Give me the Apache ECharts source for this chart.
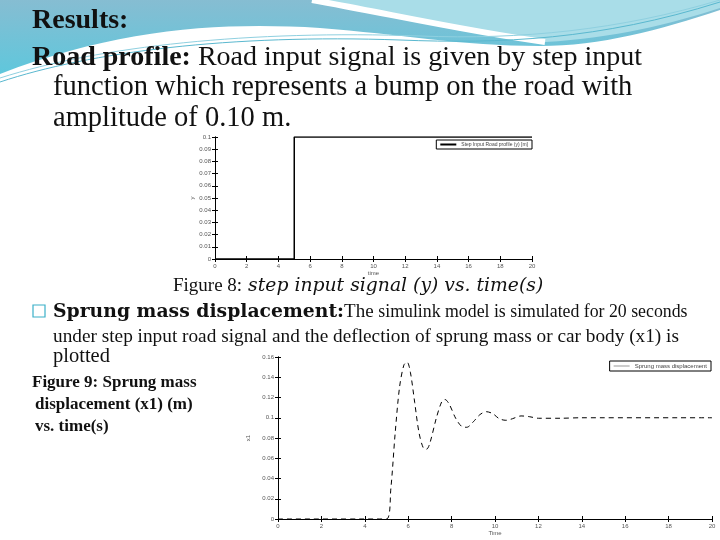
<!DOCTYPE html>
<html>
<head>
<meta charset="utf-8">
<script src="https://cdn.jsdelivr.net/npm/echarts@6/dist/echarts.min.js"></script>
<style>
  html, body { margin: 0; padding: 0; background: #fff; }
  #main { width: 720px; height: 540px; }
</style>
</head>
<body>
<div id="main"></div>
<script>
// figure 8 : step input road profile
var stepTime = [0, 5, 5, 20];
var stepValue = [0, 0, 0.1, 0.1];

// figure 9 : sprung mass displacement
var sprungTime = [0, 5.0, 5.2, 5.4, 5.6, 5.8, 5.95, 6.1, 6.3, 6.5, 6.7, 6.85, 7.0, 7.3, 7.55, 7.7, 7.9, 8.2, 8.5, 8.7,
                  9.0, 9.3, 9.6, 9.9, 10.2, 10.5, 10.8, 11.2, 11.6, 12, 13, 14, 20];
var sprungX = [0, 0, 0.03, 0.085, 0.13, 0.152, 0.155, 0.145, 0.115, 0.085, 0.07, 0.069, 0.075, 0.1, 0.116, 0.118, 0.113, 0.099, 0.091, 0.0906,
               0.096, 0.103, 0.106, 0.104, 0.099, 0.0975, 0.099, 0.1018, 0.101, 0.0995, 0.0995, 0.1, 0.1];

var stepName = 'Step Input Road profile (y) [m]';
var sprungName = 'Sprung mass displacement';

// header wave shapes
echarts.graphic.registerShape('waveBlue', echarts.graphic.extendPath('M0,0 L720,0 L720,10 C660,30 600,46 540,46 C460,46 400,34 320,28 C220,22 120,28 0,74 Z'));
echarts.graphic.registerShape('waveCyan', echarts.graphic.extendPath('M312,0 C390,14 470,32 545,42 C615,38 670,24 720,8 L720,0 Z'));
echarts.graphic.registerShape('waveWhite', echarts.graphic.extendPath('M312,0 C390,14 470,32 545,42'));
echarts.graphic.registerShape('waveLine1', echarts.graphic.extendPath('M0,82 C90,52 230,34 400,40 C500,44 600,40 720,2'));
echarts.graphic.registerShape('waveLine2', echarts.graphic.extendPath('M0,78 C100,46 250,30 420,36 C520,40 620,30 720,0'));

var myChart = echarts.init(document.getElementById('main'));

var serif = '"Liberation Serif", serif';
var wide = '"DejaVu Serif", serif';

function pair(xs, ys) {
    return xs.map(function (x, i) { return [x, ys[i]]; });
}

// matlab style axis : ticks inside, small grey labels
function axis(grid, pos, min, max, step, showLabel, name) {
    return {
        type: 'value', gridIndex: grid, position: pos, min: min, max: max, interval: step,
        name: name || '', nameLocation: 'middle',
        nameGap: (pos == 'bottom') ? 9 : 16,
        nameTextStyle: { fontSize: 6, color: '#555', fontFamily: 'Liberation Sans' },
        z: 3,
        axisLine: { show: true, lineStyle: { color: '#000', width: 1 } },
        axisTick: { show: true, inside: true, length: 3, lineStyle: { color: '#000' } },
        axisLabel: { show: showLabel, fontSize: 6, color: '#555', margin: 4, fontFamily: 'Liberation Sans' },
        splitLine: { show: false }
    };
}

function txt(x, y, text, font, extra) {
    var s = { x: x, y: y, text: text, font: font, fill: '#111', textVerticalAlign: 'middle' };
    for (var k in extra) s[k] = extra[k];
    return { type: 'text', z: 0, style: s };
}

var option = {
    backgroundColor: '#fff',
    animation: false,
    graphic: [
        // header wave
        { type: 'waveBlue', z: 0,
          style: { fill: new echarts.graphic.LinearGradient(0, 0, 0, 1, [{ offset: 0, color: '#86bdd2' }, { offset: 1, color: '#5fc7dc' }]) } },
        { type: 'waveCyan', z: 0, style: { fill: '#a9dde8' } },
        { type: 'waveWhite', z: 0, style: { fill: null, stroke: '#fff', lineWidth: 6 } },
        { type: 'waveLine1', z: 0, style: { fill: null, stroke: '#5ab8cf', lineWidth: 1 } },
        { type: 'waveLine2', z: 0, style: { fill: null, stroke: '#8fd0e0', lineWidth: 1 } },

        // slide text
        txt(32, 21, 'Results:', 'bold 28px ' + serif),
        txt(32, 58, '{b|Road profile:} Road input signal is given by step input', '28px ' + serif,
            { rich: { b: { font: 'bold 28px ' + serif, fill: '#111' } } }),
        txt(53, 88, 'function which represents a bump on the road with', '28.5px ' + serif),
        txt(53, 119, 'amplitude of 0.10 m.', '28.5px ' + serif),
        // picture backgrounds
        { type: 'rect', z: 1, shape: { x: 163, y: 127, width: 410, height: 149 }, style: { fill: '#fff' } },
        { type: 'rect', z: 1, shape: { x: 243, y: 346, width: 477, height: 194 }, style: { fill: '#fff' } },

        txt(173, 286, '{a|Figure 8:}{b| step input signal (y) vs. time(s)}', '19px ' + serif,
            { rich: { a: { font: '19px ' + serif, fill: '#111' }, b: { font: 'italic 18.8px ' + wide, fill: '#111' } } }),
        { type: 'rect', z: 0, shape: { x: 33, y: 305, width: 12, height: 12 }, style: { fill: null, stroke: '#3ab0c8', lineWidth: 1.2 } },
        txt(53, 312, '{a|Sprung mass displacement:}{b|The }{c|simulink model is simulated for 20 seconds}', '19px ' + serif,
            { rich: { a: { font: 'bold 18.8px ' + wide, fill: '#111' }, b: { font: '19px ' + serif, fill: '#111' }, c: { font: '17.8px ' + serif, fill: '#111' } } }),
        txt(53, 337, 'under step input road signal and the deflection of sprung mass or car body (x1) is', '19.3px ' + serif),
        txt(53, 357, 'plotted', '20.5px ' + serif),
        txt(32, 383, 'Figure 9: Sprung mass', 'bold 17px ' + serif),
        txt(35, 405, 'displacement (x1) (m)', 'bold 17px ' + serif),
        txt(35, 427, 'vs. time(s)', 'bold 17px ' + serif)
    ],
    grid: [
        { left: 215, top: 137, width: 317, height: 122, show: false },
        { left: 278, top: 357, width: 434, height: 162, show: false }
    ],
    legend: [
        { data: [stepName], right: 188, top: 140, orient: 'vertical', icon: 'rect', itemWidth: 16, itemHeight: 2,
          borderColor: '#000', borderWidth: 1, padding: [2, 4], backgroundColor: '#fff', z: 5,
          textStyle: { fontSize: 5, color: '#444' } },
        { data: [sprungName], right: 9, top: 361, orient: 'vertical', icon: 'rect', itemWidth: 16, itemHeight: 1,
          borderColor: '#000', borderWidth: 1, padding: [2, 4], backgroundColor: '#fff', z: 5,
          textStyle: { fontSize: 6, color: '#444' } }
    ],
    xAxis: [
        axis(0, 'bottom', 0, 20, 2, true, 'time'),
        axis(0, 'top', 0, 20, 2, false),
        axis(1, 'bottom', 0, 20, 2, true, 'Time'),
        axis(1, 'top', 0, 20, 2, false)
    ],
    yAxis: [
        axis(0, 'left', 0, 0.1, 0.01, true, 'y'),
        axis(0, 'right', 0, 0.1, 0.01, false),
        axis(1, 'left', 0, 0.16, 0.02, true, 'x1'),
        axis(1, 'right', 0, 0.16, 0.02, false)
    ],
    series: [
        {
            name: stepName, type: 'line', xAxisIndex: 0, yAxisIndex: 0, symbol: 'none', z: 4,
            lineStyle: { color: '#000', width: 1.5 }, itemStyle: { color: '#000' },
            data: pair(stepTime, stepValue)
        },
        {
            name: sprungName, type: 'line', xAxisIndex: 2, yAxisIndex: 2, symbol: 'none', z: 4, smooth: 0.3,
            lineStyle: { color: '#000', width: 1, type: [5, 4] }, itemStyle: { color: '#999' },
            data: pair(sprungTime, sprungX)
        }
    ]
};

myChart.setOption(option);
</script>
</body>
</html>
